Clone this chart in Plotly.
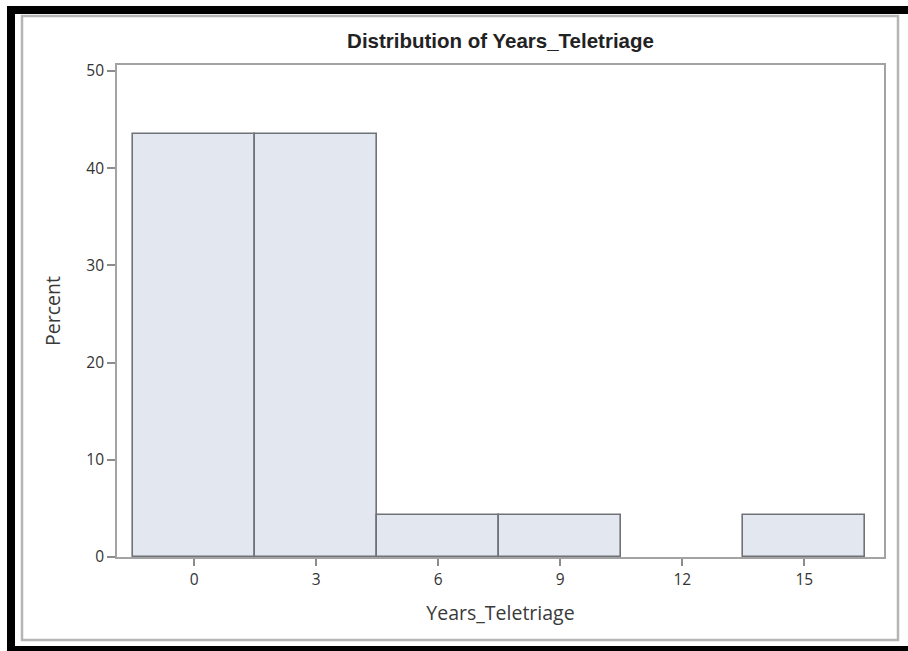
import plotly.graph_objects as go

# Histogram of years of teletriage experience (bin width 3, centred on midpoints)
bin_midpoints = [0, 3, 6, 9, 12, 15]
percent = [43.48, 43.48, 4.35, 4.35, 0.0, 4.35]
y_ticks = [0, 10, 20, 30, 40, 50]
x_ticks = [0, 3, 6, 9, 12, 15]

W, H = 908, 651
L, R, T, B = 117, 24, 65, 94
pw, ph = W - L - R, H - T - B


def px(x):
    return (x - L) / pw


def py(y):
    return (H - B - y) / ph


fig = go.Figure()
fig.add_trace(go.Bar(
    x=bin_midpoints,
    y=percent,
    width=3,
    marker=dict(
        color="#e3e7f0",
        # empty bins get no outline so the axis line stays grey there
        line=dict(color="#6f7378", width=[1.6 if v > 0 else 0 for v in percent]),
    ),
    hoverinfo="x+y",
))

sans = "Open Sans, Noto Sans, sans-serif"
tick_font = dict(family=sans, size=15.5, color="#333333")
title_font = dict(family=sans, size=19.5, color="#3a3a3a")

fig.update_xaxes(
    range=[-1.9, 16.96],
    tickvals=x_ticks,
    ticks="outside", ticklen=7, tickcolor="#8c8c8c", tickwidth=1.5,
    showline=True, linecolor="#a3a3a3", linewidth=1.8, mirror=True,
    showgrid=False, zeroline=False,
    tickfont=tick_font,
    title=dict(text="Years_Teletriage", font=title_font, standoff=18),
)
fig.update_yaxes(
    range=[0, 50.6],
    tickvals=y_ticks,
    ticks="outside", ticklen=8, tickcolor="#8c8c8c", tickwidth=1.5,
    showline=True, linecolor="#a3a3a3", linewidth=1.8, mirror=True,
    showgrid=False, zeroline=False,
    tickfont=tick_font,
    title=dict(text="Percent", font=title_font, standoff=20),
)

shapes = [
    # light grey outer panel
    dict(type="rect", xref="paper", yref="paper",
         x0=px(22), x1=px(898), y0=py(16), y1=py(640),
         line=dict(color="#b5b5b5", width=2.5), fillcolor="rgba(0,0,0,0)", layer="below"),
    # heavy black frame: top, left, bottom
    dict(type="rect", xref="paper", yref="paper",
         x0=px(7), x1=px(W), y0=py(14), y1=py(6),
         line=dict(width=0), fillcolor="black"),
    dict(type="rect", xref="paper", yref="paper",
         x0=px(7), x1=px(15), y0=py(H), y1=py(6),
         line=dict(width=0), fillcolor="black"),
    dict(type="rect", xref="paper", yref="paper",
         x0=px(7), x1=px(W), y0=py(H), y1=py(646),
         line=dict(width=0), fillcolor="black"),
]

fig.update_layout(
    width=W, height=H,
    margin=dict(l=L, r=R, t=T, b=B),
    paper_bgcolor="white", plot_bgcolor="white",
    showlegend=False,
    bargap=0,
    shapes=shapes,
    title=dict(
        text="<b>Distribution of Years_Teletriage</b>",
        font=dict(family="Liberation Sans Narrow, Arial Narrow, Liberation Sans, sans-serif", size=20.5, color="#222222"),
        x=0.5, xref="paper", xanchor="center",
        y=1 - 41 / H, yref="container", yanchor="middle",
    ),
)

fig.write_html("out.html")
